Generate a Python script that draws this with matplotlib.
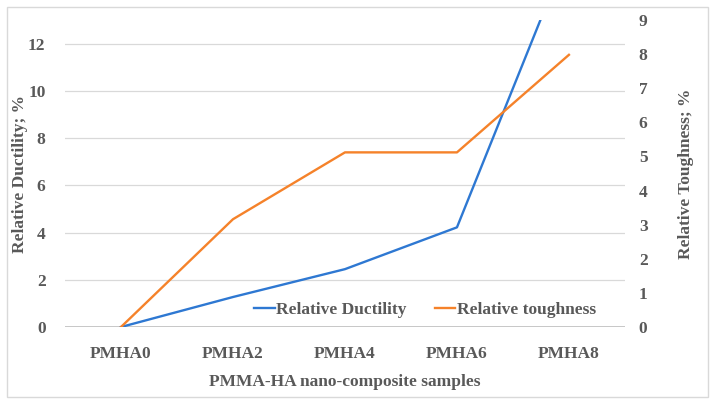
import matplotlib
matplotlib.use('Agg')
import matplotlib.pyplot as plt
from matplotlib.patches import Rectangle

samples   = ['PMHA0', 'PMHA2', 'PMHA4', 'PMHA6', 'PMHA8']
ductility = [0.0, 1.27, 2.45, 4.22, 16.0]
toughness = [0.0, 3.16, 5.12, 5.12, 7.98]

TXT   = '#595959'
BLUE  = '#2e78d2'
ORANGE = '#f5822a'
plt.rcParams['font.family'] = ['Liberation Serif', 'DejaVu Serif']
plt.rcParams['font.weight'] = 'bold'

fig = plt.figure(figsize=(7.16, 4.09), dpi=100)
ax = fig.add_axes([0.0908, 0.2005, 0.782, 0.7505])
ax2 = ax.twinx()

x = list(range(len(samples)))
l1, = ax.plot(x, ductility, color=BLUE, lw=1.7, label='Relative Ductility')
l2, = ax2.plot(x, toughness, color=ORANGE, lw=1.7, label='Relative toughness')

ax.set_xlim(-0.5, 4.5)
ax.set_ylim(0, 13)
ax.set_yticks(range(0, 13, 2))
ax2.set_ylim(0, 9)
ax2.set_yticks(range(0, 10))

ax.grid(axis='y', color='#d9d9d9', lw=0.9)
ax.set_axisbelow(True)
for a in (ax, ax2):
    for s in a.spines.values():
        s.set_visible(False)
ax.axhline(0, color='#bfbfbf', lw=1.2, zorder=1)

ax.set_xticks(x)
ax.set_xticklabels(samples)
ax.tick_params(axis='x', length=0, pad=14, labelsize=12.5, labelcolor=TXT)
ax.tick_params(axis='y', length=0, pad=14, labelsize=12.5, labelcolor=TXT)
ax2.tick_params(axis='y', length=0, pad=10, labelsize=12.5, labelcolor=TXT)

ax.set_xlabel('PMMA-HA nano-composite samples', fontsize=12.5, color=TXT,
              fontweight='bold')
ax.set_ylabel('Relative Ductility; %', fontsize=12.5, color=TXT,
              fontweight='bold')
ax2.set_ylabel('Relative Toughness; %', fontsize=12.5, color=TXT,
               fontweight='bold')
ax.xaxis.set_label_coords(0.5, -0.152)
ax.yaxis.set_label_coords(-0.066, 0.5)
ax2.yaxis.set_label_coords(1.095, 0.5)

leg = ax2.legend([l1, l2], [l1.get_label(), l2.get_label()], loc='center',
                 bbox_to_anchor=(0.643, 0.055), ncol=2, frameon=False,
                 handlelength=1.2, handletextpad=0.1, columnspacing=1.6,
                 prop={'family': 'Liberation Serif', 'weight': 'bold', 'size': 12.5})
for t in leg.get_texts():
    t.set_color(TXT)

# chart area border
fig.patches.append(Rectangle((0.0098, 0.029), 0.979, 0.954, transform=fig.transFigure,
                             fill=False, edgecolor='#d9d9d9', lw=1.0))

plt.savefig('out.png', dpi=100)
plt.close()
